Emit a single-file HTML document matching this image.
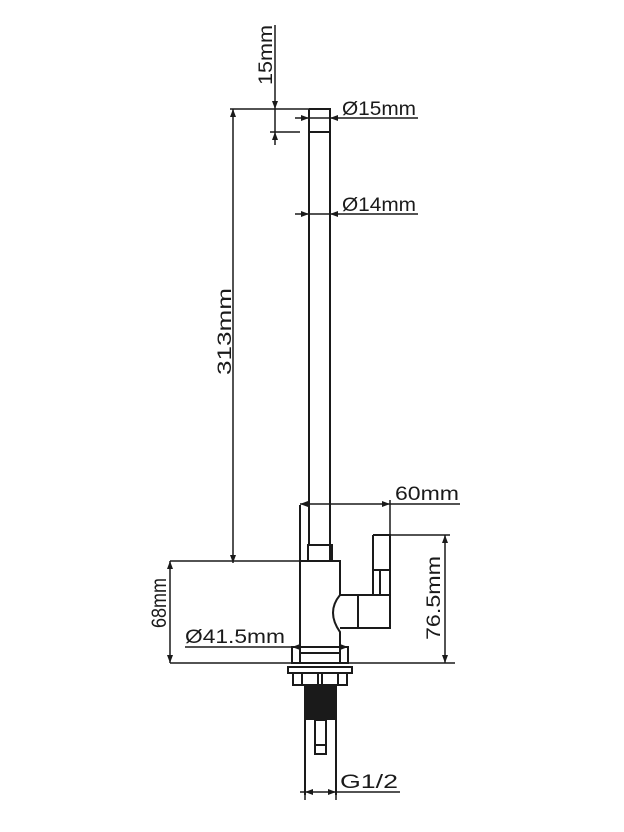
<!DOCTYPE html>
<html><head><style>html,body{margin:0;padding:0;background:#fff}svg{display:block}</style></head>
<body>
<svg width="624" height="832" viewBox="0 0 624 832" xmlns="http://www.w3.org/2000/svg">
<g stroke="#1a1a1a" stroke-width="2" fill="none">
<path d="M309 109 H330 V561 M309 109 V545 M309 132 H330"/>
<rect x="308" y="545" width="24" height="16"/>
<path d="M300 505 V653 M300 561 H340 V595 Q326 612 340 632 V653 M300 653 H340"/>
<path d="M340 595 H390 V628 H340 M358 595 V628 M373 535 H390 V595 M373 535 V595 M373 570 H390 M380 570 V595"/>
<rect x="292" y="647" width="56" height="16"/>
<path d="M300 647 V663 M340 647 V663"/>
<rect x="288" y="667" width="64" height="6"/>
<rect x="293" y="673" width="54" height="12"/>
<path d="M302 673 V685 M318 673 V685 M322 673 V685 M338 673 V685"/>
<path d="M305 685 V795 M336 685 V795"/>
<rect x="315" y="720" width="11" height="34"/>
<path d="M315 745 H326"/>
</g>
<rect x="305" y="685" width="31" height="35" fill="#1a1a1a"/>
<g stroke="#1a1a1a" stroke-width="1.5" fill="none">
<path d="M275 25 V145 M270 132 H300"/>
<path d="M230 109 H330 M233 109 V563"/>
<path d="M295 118 H418"/>
<path d="M295 214 H418"/>
<path d="M300 504 H460 M390 500 V535"/>
<path d="M373 535 H450 M445 535 V663"/>
<path d="M170 561 H300 M170 561 V663 M170 663 H455"/>
<path d="M185 647 H345"/>
<path d="M300 792 H400 M305 795 V800 M336 795 V800"/>
</g>
<g fill="#1a1a1a">
<path d="M233 109 l-3 8 h6z M233 563 l-3 -8 h6z M275 109 l-3 -8 h6z M275 132 l-3 8 h6z M309 118 l-8 -3 v6z M330 118 l8 -3 v6z M309 214 l-8 -3 v6z M330 214 l8 -3 v6z M300 504 l8 -3 v6z M390 504 l-8 -3 v6z M445 535 l-3 8 h6z M445 663 l-3 -8 h6z M170 561 l-3 8 h6z M170 663 l-3 -8 h6z M292 647 l8 -3 v6z M348 647 l-8 -3 v6z M305 792 l8 -3 v6z M336 792 l-8 -3 v6z"/>
</g>
<g font-family="Liberation Sans, sans-serif" font-size="19" fill="#1a1a1a">
<text x="342" y="115" textLength="74" lengthAdjust="spacingAndGlyphs">Ø15mm</text>
<text x="342" y="211" textLength="74" lengthAdjust="spacingAndGlyphs">Ø14mm</text>
<text x="395" y="500" textLength="64" lengthAdjust="spacingAndGlyphs">60mm</text>
<text x="185" y="643" textLength="100" lengthAdjust="spacingAndGlyphs">Ø41.5mm</text>
<text x="340" y="788" textLength="58" lengthAdjust="spacingAndGlyphs">G1/2</text>
<text transform="translate(272,85) rotate(-90)" textLength="60" lengthAdjust="spacingAndGlyphs">15mm</text>
<text transform="translate(231,375) rotate(-90)" textLength="87" lengthAdjust="spacingAndGlyphs">313mm</text>
<text transform="translate(166,628) rotate(-90)" font-size="21" textLength="50" lengthAdjust="spacingAndGlyphs">68mm</text>
<text transform="translate(440,640) rotate(-90)" textLength="84" lengthAdjust="spacingAndGlyphs">76.5mm</text>
</g>
</svg>
</body></html>
